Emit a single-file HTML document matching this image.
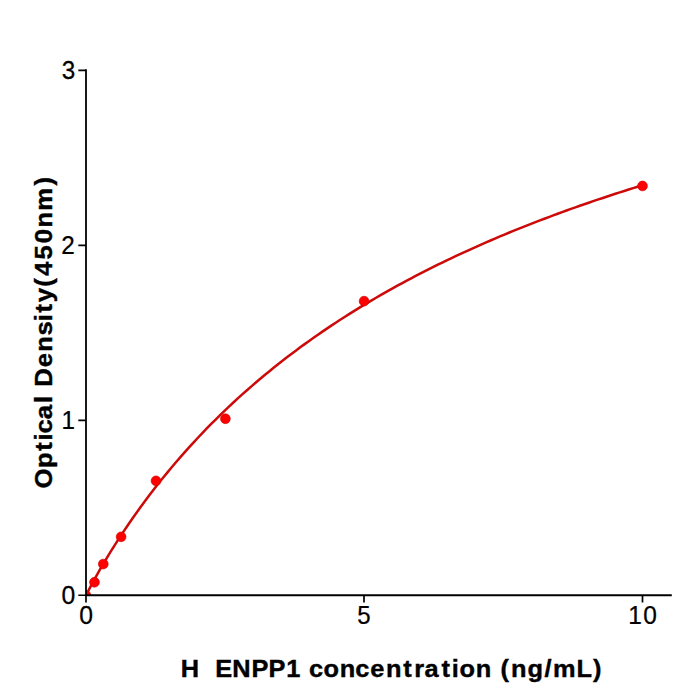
<!DOCTYPE html>
<html><head><meta charset="utf-8"><style>
html,body{margin:0;padding:0;background:#fff;}
svg{display:block;}
text{font-family:"Liberation Sans",sans-serif;fill:#000;}
</style></head><body>
<svg width="700" height="700" viewBox="0 0 700 700">
<defs><clipPath id="ax"><rect x="86" y="70" width="586" height="525"/></clipPath></defs>
<g clip-path="url(#ax)"><g transform="translate(0.0,0.45)">
<path d="M86.00,595.18 L86.69,593.70 L87.39,592.29 L88.08,590.91 L88.78,589.55 L89.47,588.21 L90.17,586.88 L90.86,585.56 L91.56,584.26 L92.25,582.96 L92.95,581.68 L93.64,580.40 L94.34,579.13 L95.03,577.87 L95.73,576.62 L96.42,575.37 L97.12,574.13 L97.81,572.90 L98.51,571.68 L99.20,570.46 L99.90,569.25 L100.59,568.04 L101.29,566.84 L101.98,565.65 L102.68,564.46 L103.38,563.28 L104.07,562.10 L104.77,560.93 L105.46,559.77 L106.16,558.61 L106.85,557.45 L107.55,556.30 L108.24,555.16 L108.94,554.02 L109.63,552.88 L110.33,551.75 L111.02,550.63 L111.72,549.51 L112.41,548.39 L113.11,547.28 L113.80,546.17 L118.24,539.21 L122.68,532.43 L127.12,525.80 L131.55,519.33 L135.99,513.01 L140.43,506.83 L144.87,500.78 L149.31,494.87 L153.75,489.07 L158.19,483.40 L162.63,477.84 L167.06,472.39 L171.50,467.05 L175.94,461.82 L180.38,456.68 L184.82,451.64 L189.26,446.69 L193.70,441.84 L198.13,437.07 L202.57,432.39 L207.01,427.79 L211.45,423.27 L215.89,418.83 L220.33,414.47 L224.77,410.18 L229.21,405.96 L233.64,401.82 L238.08,397.74 L242.52,393.73 L246.96,389.78 L251.40,385.89 L255.84,382.07 L260.28,378.31 L264.71,374.60 L269.15,370.96 L273.59,367.36 L278.03,363.83 L282.47,360.34 L286.91,356.91 L291.35,353.53 L295.78,350.20 L300.22,346.91 L304.66,343.68 L309.10,340.49 L313.54,337.34 L317.98,334.24 L322.42,331.18 L326.86,328.17 L331.29,325.19 L335.73,322.26 L340.17,319.36 L344.61,316.51 L349.05,313.69 L353.49,310.91 L357.93,308.17 L362.36,305.46 L366.80,302.79 L371.24,300.15 L375.68,297.54 L380.12,294.97 L384.56,292.43 L389.00,289.92 L393.44,287.45 L397.87,285.00 L402.31,282.59 L406.75,280.20 L411.19,277.84 L415.63,275.51 L420.07,273.21 L424.51,270.94 L428.94,268.69 L433.38,266.47 L437.82,264.27 L442.26,262.10 L446.70,259.96 L451.14,257.83 L455.58,255.74 L460.02,253.67 L464.45,251.62 L468.89,249.59 L473.33,247.58 L477.77,245.60 L482.21,243.64 L486.65,241.70 L491.09,239.78 L495.52,237.88 L499.96,236.01 L504.40,234.15 L508.84,232.31 L513.28,230.49 L517.72,228.69 L522.16,226.91 L526.59,225.15 L531.03,223.41 L535.47,221.68 L539.91,219.97 L544.35,218.28 L548.79,216.60 L553.23,214.95 L557.67,213.31 L562.10,211.68 L566.54,210.07 L570.98,208.48 L575.42,206.90 L579.86,205.34 L584.30,203.79 L588.74,202.26 L593.17,200.74 L597.61,199.24 L602.05,197.75 L606.49,196.27 L610.93,194.81 L615.37,193.36 L619.81,191.93 L624.25,190.51 L628.68,189.10 L633.12,187.71 L637.56,186.32 L642.00,184.95" fill="none" stroke="#cc0a0a" stroke-width="2.5"/>
<g fill="#ff0000" stroke="#cc0000" stroke-width="0.6">
<circle cx="86.0" cy="595.0" r="4.90"/>
<circle cx="94.5" cy="581.8" r="4.90"/>
<circle cx="103.3" cy="563.6" r="4.90"/>
<circle cx="121.1" cy="536.4" r="4.90"/>
<circle cx="156.0" cy="480.4" r="4.90"/>
<circle cx="225.4" cy="418.3" r="4.90"/>
<circle cx="364.1" cy="300.7" r="4.90"/>
<circle cx="642.5" cy="185.5" r="4.90"/>
</g>
</g></g>
<g stroke="#000" fill="none">
<path d="M86,69.2 V595.9" stroke-width="1.8"/>
<path d="M85.1,595.25 H671.8" stroke-width="1.8"/>
<path d="M78.3,70.35 H86 M78.3,245.35 H86 M78.3,420.35 H86 M78.3,595.25 H86" stroke-width="1.7"/>
<path d="M86,595 V602.5 M364,595 V602.5 M642.5,595 V602.5" stroke-width="1.7"/>
</g>
<text transform="translate(60.98,78.50) scale(0.9730,1)" x="0.71" y="0" font-size="24.94" stroke="#000" stroke-width="0.25" style="white-space:pre" xml:space="preserve">3</text>
<text transform="translate(60.98,253.50) scale(0.9747,1)" x="0.35" y="0" font-size="24.94" stroke="#000" stroke-width="0.25" style="white-space:pre" xml:space="preserve">2</text>
<text transform="translate(60.98,428.50) scale(0.9704,1)" x="0.57" y="0" font-size="24.94" stroke="#000" stroke-width="0.25" style="white-space:pre" xml:space="preserve">1</text>
<text transform="translate(60.98,603.50) scale(0.9925,1)" x="0.53" y="0" font-size="24.94" stroke="#000" stroke-width="0.25" style="white-space:pre" xml:space="preserve">0</text>
<text transform="translate(78.79,623.90) scale(0.9925,1)" x="0.53" y="0" font-size="24.94" stroke="#000" stroke-width="0.25" style="white-space:pre" xml:space="preserve">0</text>
<text transform="translate(356.59,623.90) scale(0.9648,1)" x="0.65" y="0" font-size="24.94" stroke="#000" stroke-width="0.25" style="white-space:pre" xml:space="preserve">5</text>
<text transform="translate(627.78,623.90) scale(0.9820,1)" x="0.48 15.70" y="0" font-size="24.94" stroke="#000" stroke-width="0.25" style="white-space:pre" xml:space="preserve">10</text>
<text transform="translate(180.20,677.40) scale(1.0293,1)" x="0.56 19.41 27.28 34.00 50.63 69.20 85.76 103.15 118.31 125.12 139.29 155.10 170.11 184.73 199.90 216.63 227.31 237.31 253.81 263.88 271.40 287.22 303.27 311.15 321.49 337.47 353.91 362.27 384.95 400.98" y="0" font-size="24.64" font-weight="bold" stroke="#000" stroke-width="0.40" style="white-space:pre" xml:space="preserve">H  ENPP1 concentration (ng/mL)</text>
<text transform="translate(51.90,488.50) rotate(-90) scale(1.0398,1)" x="-0.07 19.66 36.23 46.23 52.87 66.62 82.31 90.04 97.89 116.58 131.62 147.05 160.88 169.28 179.20 193.93 204.50 220.27 235.84 250.93 267.13 291.33" y="0" font-size="24.69" font-weight="bold" stroke="#000" stroke-width="0.40" style="white-space:pre" xml:space="preserve">Optical Density(450nm)</text>
</svg>
</body></html>
